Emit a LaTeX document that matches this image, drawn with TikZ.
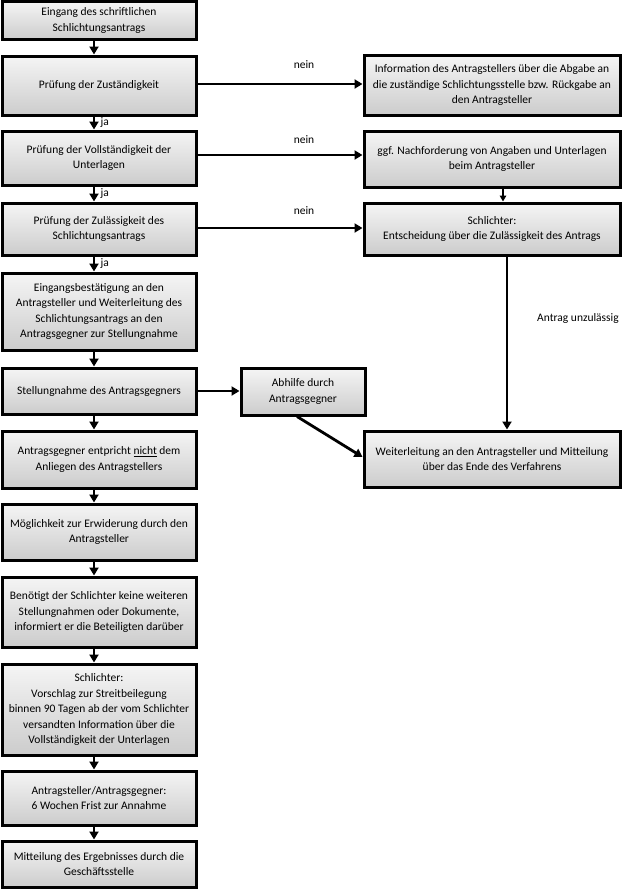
\documentclass[tikz,border=0pt]{standalone}
\usepackage{fontspec}
\setmainfont{Carlito}
\usetikzlibrary{arrows.meta}
\tikzset{
  box/.style={draw=black, line width=3pt, rectangle, align=center,
    top color=gray!8, bottom color=gray!40, shading angle=0,
    font=\fontsize{11.5}{15.5}\selectfont, inner sep=2pt},
  arr/.style={line width=2.8pt, -{Triangle[length=8pt,width=9pt]}},
  thinarr/.style={line width=1.6pt, -{Triangle[length=6pt,width=6.5pt]}},
  lbl/.style={font=\fontsize{11.5}{13}\selectfont, inner sep=0pt}
}
\begin{document}
\begin{tikzpicture}[x=1pt,y=-1pt]
\useasboundingbox (0,0) rectangle (622,889);
% left column
\node[box, minimum width=194pt, minimum height=38pt] (b1) at (99,20.5) {Eingang des schriftlichen\\Schlichtungsantrags};
\node[box, minimum width=194pt, minimum height=59pt] (b2) at (99,85.5) {Prüfung der Zuständigkeit};
\node[box, minimum width=194pt, minimum height=54pt] (b3) at (99,158) {Prüfung der Vollständigkeit der\\Unterlagen};
\node[box, minimum width=194pt, minimum height=52pt] (b4) at (99,229) {Prüfung der Zulässigkeit des\\Schlichtungsantrags};
\node[box, minimum width=194pt, minimum height=77pt] (b5) at (99,311.5) {Eingangsbestätigung an den\\Antragsteller und Weiterleitung des\\Schlichtungsantrags an den\\Antragsgegner zur Stellungnahme};
\node[box, minimum width=194pt, minimum height=46pt] (b6) at (99,391) {Stellungnahme des Antragsgegners};
\node[box, minimum width=194pt, minimum height=57pt] (b7) at (99,459.5) {Antragsgegner entpricht \underline{nicht} dem\\Anliegen des Antragstellers};
\node[box, minimum width=194pt, minimum height=56pt] (b8) at (99,532) {Möglichkeit zur Erwiderung durch den\\Antragsteller};
\node[box, minimum width=194pt, minimum height=70pt] (b9) at (99,612) {Benötigt der Schlichter keine weiteren\\Stellungnahmen oder Dokumente,\\informiert er die Beteiligten darüber};
\node[box, minimum width=194pt, minimum height=91pt] (b10) at (99,709.5) {Schlichter:\\Vorschlag zur Streitbeilegung\\binnen 90 Tagen ab der vom Schlichter\\versandten Information über die\\Vollständigkeit der Unterlagen};
\node[box, minimum width=194pt, minimum height=54pt] (b11) at (99,798) {Antragsteller/Antragsgegner:\\6 Wochen Frist zur Annahme};
\node[box, minimum width=194pt, minimum height=46pt] (b12) at (99,864) {Mitteilung des Ergebnisses durch die\\Geschäftsstelle};
% right column
\node[box, minimum width=256pt, minimum height=60pt] (r1) at (492,85) {Information des Antragstellers über die Abgabe an\\die zuständige Schlichtungsstelle bzw. Rückgabe an\\den Antragsteller};
\node[box, minimum width=256pt, minimum height=56pt] (r2) at (492,159) {ggf. Nachforderung von Angaben und Unterlagen\\beim Antragsteller};
\node[box, minimum width=256pt, minimum height=52pt] (r3) at (492,229) {Schlichter:\\Entscheidung über die Zulässigkeit des Antrags};
\node[box, minimum width=124pt, minimum height=47pt] (ab) at (303,391.5) {Abhilfe durch\\Antragsgegner};
\node[box, minimum width=256pt, minimum height=56pt] (wl) at (492,459) {Weiterleitung an den Antragsteller und Mitteilung\\über das Ende des Verfahrens};
% vertical arrows left column
\foreach \a/\b in {b1/b2,b2/b3,b3/b4,b4/b5,b5/b6,b6/b7,b7/b8,b8/b9,b9/b10,b10/b11,b11/b12}{
  \draw[arr] ([xshift=-5pt]\a.south) -- ([xshift=-5pt]\b.north);
}
\node[lbl, anchor=west] at (100.5,122.5) {ja};
\node[lbl, anchor=west] at (100.5,194) {ja};
\node[lbl, anchor=west] at (100.5,264) {ja};
% nein arrows
\draw[arr] (b2.east |- 0,84) coordinate (n1s) -- (r1.west |- n1s);
\draw[arr] (b3.east |- 0,155) coordinate (n2s) -- (r2.west |- n2s);
\draw[arr] (b4.east |- 0,228) coordinate (n3s) -- (r3.west |- n3s);
\node[lbl] at (304,65) {nein};
\node[lbl] at (304,140) {nein};
\node[lbl] at (304,211) {nein};
% right column arrows
\draw[thinarr] ([xshift=11pt]r2.south) -- ([xshift=11pt]r3.north);
\draw[arr] ([xshift=15pt]r3.south) -- ([xshift=15pt]wl.north);
\node[lbl] at (578,318) {Antrag unzulässig};
% Abhilfe
\draw[arr] (b6.east) -- (ab.west |- b6.east);
\draw[arr] ([xshift=-6pt]ab.south) -- ([yshift=2pt]wl.west);
\end{tikzpicture}
\end{document}
